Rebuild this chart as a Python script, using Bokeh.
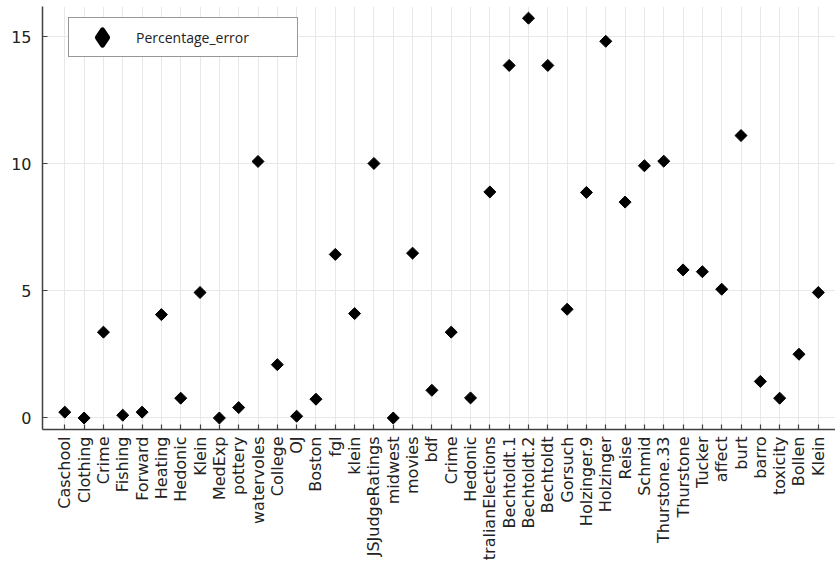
import math
from bokeh.plotting import figure
from bokeh.models import FixedTicker, Range1d, Legend, LegendItem
from bokeh.embed import file_html
from bokeh.resources import INLINE

categories = ["Caschool", "Clothing", "Crime", "Fishing", "Forward", "Heating", "Hedonic",
              "Klein", "MedExp", "pottery", "watervoles", "College", "OJ", "Boston", "fgl",
              "klein", "JSJudgeRatings", "midwest", "movies", "bdf", "Crime", "Hedonic",
              "tralianElections", "Bechtoldt.1", "Bechtoldt.2", "Bechtoldt", "Gorsuch",
              "Holzinger.9", "Holzinger", "Reise", "Schmid", "Thurstone.33", "Thurstone",
              "Tucker", "affect", "burt", "barro", "toxicity", "Bollen", "Klein"]
percentage_error = [0.23, 0.0, 3.38, 0.11, 0.23, 4.07, 0.78, 4.94, 0.0, 0.41,
                    10.1, 2.1, 0.07, 0.74, 6.44, 4.11, 10.02, 0.0, 6.49, 1.09,
                    3.38, 0.79, 8.9, 13.88, 15.74, 13.88, 4.28, 8.88, 14.83, 8.5,
                    9.93, 10.11, 5.83, 5.76, 5.07, 11.12, 1.44, 0.78, 2.51, 4.94]
y_ticks = [0, 5, 10, 15]

xs = list(range(1, len(categories) + 1))

p = figure(frame_width=793, frame_height=423, output_backend="svg", toolbar_location=None,
           x_range=Range1d(-0.154, 40.89), y_range=Range1d(-0.453, 16.2),
           min_border_left=42, min_border_top=6, min_border_right=0, min_border_bottom=0)
p.outline_line_color = None
p.background_fill_color = "white"

# diamond version used for the legend glyph (legend markers are never rotated);
# drawn tiny and hidden beneath the main markers
r_leg = p.scatter(xs, percentage_error, marker="diamond", size=1,
                  fill_color="black", line_color="black", line_width=5, line_join="round")
r = p.scatter(xs, percentage_error, marker="square", angle=math.pi / 4, size=8.5,
              fill_color="black", line_color="black")

p.xaxis.ticker = FixedTicker(ticks=xs)
p.xaxis.major_label_overrides = {x: c for x, c in zip(xs, categories)}
p.xaxis.major_label_orientation = math.pi / 2
p.yaxis.ticker = FixedTicker(ticks=y_ticks)

for ax in (p.xaxis[0], p.yaxis[0]):
    ax.major_label_text_font = "DejaVu Sans"
    ax.major_label_text_font_size = "16px"
    ax.major_label_text_color = "#222222"
    ax.axis_line_color = "#404040"
    ax.axis_line_width = 1.5
    ax.major_tick_line_color = "#404040"
    ax.major_tick_line_width = 1.2
    ax.major_tick_in = 5
    ax.major_tick_out = 0
    ax.minor_tick_line_color = None
p.xaxis.major_label_standoff = 7
p.yaxis.major_label_standoff = 11

p.xgrid.ticker = FixedTicker(ticks=xs)
p.ygrid.ticker = FixedTicker(ticks=y_ticks)
p.grid.grid_line_color = "#e8e8e8"
p.grid.grid_line_width = 1

legend = Legend(items=[LegendItem(label="Percentage_error", renderers=[r_leg])],
                location=(26, 372), padding=0, glyph_height=38, glyph_width=66,
                label_standoff=1, label_width=161, label_text_font="Open Sans",
                label_text_font_size="14px", label_text_color="#222222",
                border_line_color="#303030", border_line_width=1.2,
                background_fill_color="white", background_fill_alpha=1.0, spacing=0)
p.add_layout(legend, "center")

open("out.html", "w").write(file_html(p, INLINE))
